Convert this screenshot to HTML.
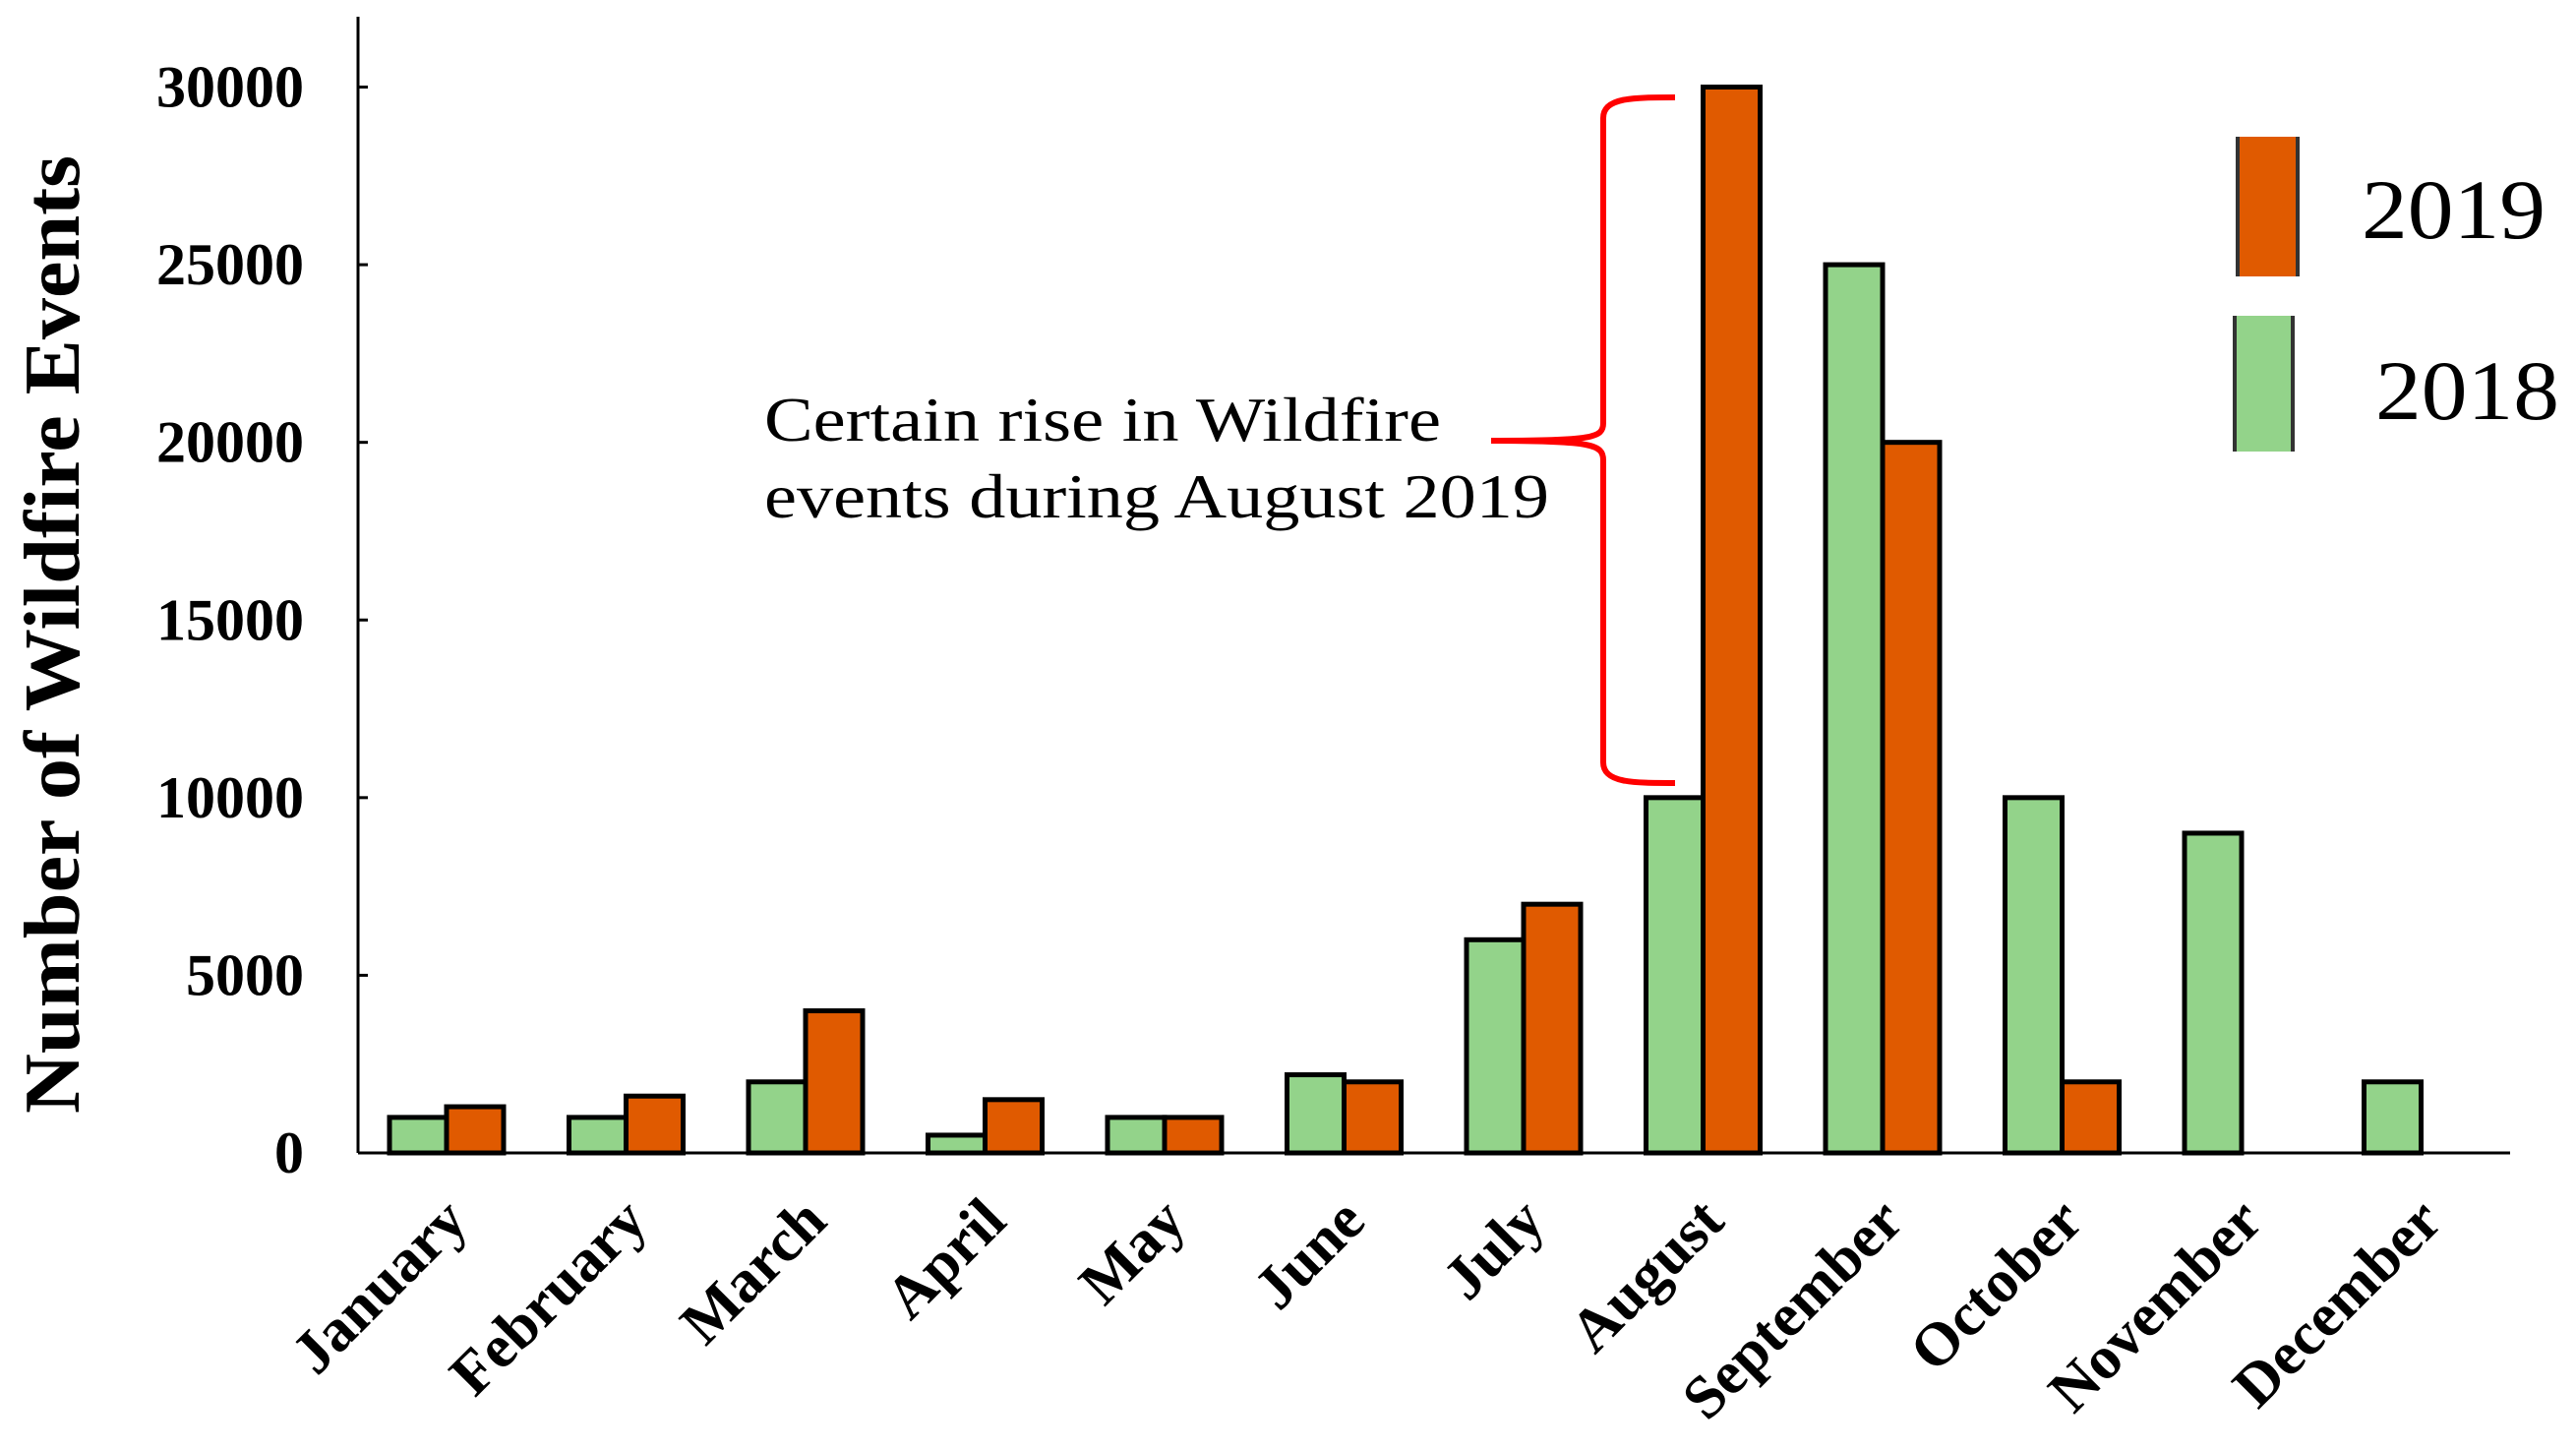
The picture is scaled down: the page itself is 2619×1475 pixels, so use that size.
<!DOCTYPE html>
<html><head><meta charset="utf-8"><style>
html,body{margin:0;padding:0;background:#fff;}
svg{display:block;}
text{font-family:"Liberation Serif",serif;}
</style></head><body>
<svg id="chart" width="2619" height="1475" viewBox="0 0 2619 1475" xmlns="http://www.w3.org/2000/svg">
<g id="axes"></g>
<g id="bars"></g>
<g id="labels"></g>
<text transform="translate(80,645) rotate(-90)" text-anchor="middle" font-size="80" font-weight="bold" textLength="974" lengthAdjust="spacingAndGlyphs">Number of Wildfire Events</text>
<text x="777" y="448" font-size="64" textLength="688" lengthAdjust="spacingAndGlyphs">Certain rise in Wildfire</text>
<text x="777" y="526" font-size="64" textLength="798" lengthAdjust="spacingAndGlyphs">events during August 2019</text>
<path d="M1703,99 C1660,99 1630,99 1630,120 L1630,430 C1630,445 1620,448 1516,448 C1620,448 1630,452 1630,468 L1630,775 C1630,796 1660,796 1703,796" fill="none" stroke="#ff0000" stroke-width="6"/>
<g>
<rect x="2273" y="139" width="65" height="142" fill="#e05a00"/>
<line x1="2275" y1="139" x2="2275" y2="281" stroke="#333" stroke-width="4"/>
<line x1="2336" y1="139" x2="2336" y2="281" stroke="#333" stroke-width="4"/>
<text x="2401" y="242" font-size="86" textLength="187" lengthAdjust="spacingAndGlyphs">2019</text>
<rect x="2270" y="321" width="63" height="138" fill="#93d38a"/>
<line x1="2272" y1="321" x2="2272" y2="459" stroke="#333" stroke-width="4"/>
<line x1="2331" y1="321" x2="2331" y2="459" stroke="#333" stroke-width="4"/>
<text x="2415" y="426" font-size="86" textLength="187" lengthAdjust="spacingAndGlyphs">2018</text>
</g>
</svg>
<script>
const months=["January","February","March","April","May","June","July","August","September","October","November","December"];
const values2018=[1000,1000,2000,500,1000,2200,6000,10000,25000,10000,9000,2000];
const values2019=[1300,1600,4000,1500,1000,2000,7000,30000,20000,2000,null,null];
const yTicks=[0,5000,10000,15000,20000,25000,30000];
const NS="http://www.w3.org/2000/svg";
const x0=364,y0=1172,yTop=88.5,xEnd=2552,step=182.5,c0=454,bw=58;
function y(v){return y0-(v/30000)*(y0-yTop);}
function cx(i){return c0+step*i;}
function mk(tag,attrs,parent){const e=document.createElementNS(NS,tag);for(const k in attrs)e.setAttribute(k,attrs[k]);parent.appendChild(e);return e;}
const axes=document.getElementById('axes'),bars=document.getElementById('bars'),labels=document.getElementById('labels');
let a=mk('line',{x1:x0,y1:17,x2:x0,y2:y0,stroke:'#000','stroke-width':3},axes);


a=mk('line',{x1:x0,y1:y0,x2:xEnd,y2:y0,stroke:'#000','stroke-width':3},axes);


yTicks.forEach(t=>{
  const tk=mk('line',{x1:x0,y1:y(t),x2:x0+10,y2:y(t),stroke:'#000','stroke-width':3},axes);
  
  
  const tl=mk('text',{x:309,y:y(t)+20,'text-anchor':'end','font-size':60,'font-weight':'bold'},labels);
  tl.textContent=t;
  
  
});
months.forEach((m,i)=>{
  const c=cx(i);
  if(values2018[i]!=null){
    const r=mk('rect',{x:c-bw,y:y(values2018[i]),width:bw,height:y0-y(values2018[i]),fill:'#93d38a',stroke:'#000','stroke-width':5},bars);
    
    
  }
  if(values2019[i]!=null){
    const r=mk('rect',{x:c,y:y(values2019[i]),width:bw,height:y0-y(values2019[i]),fill:'#e05a00',stroke:'#000','stroke-width':5},bars);
    
    
  }
  const t=mk('text',{transform:`translate(${c+24},${y0+72}) rotate(-45)`,'text-anchor':'end','font-size':62,'font-weight':'bold'},labels);
  t.textContent=m;
  
  
});
</script>
</body></html>
